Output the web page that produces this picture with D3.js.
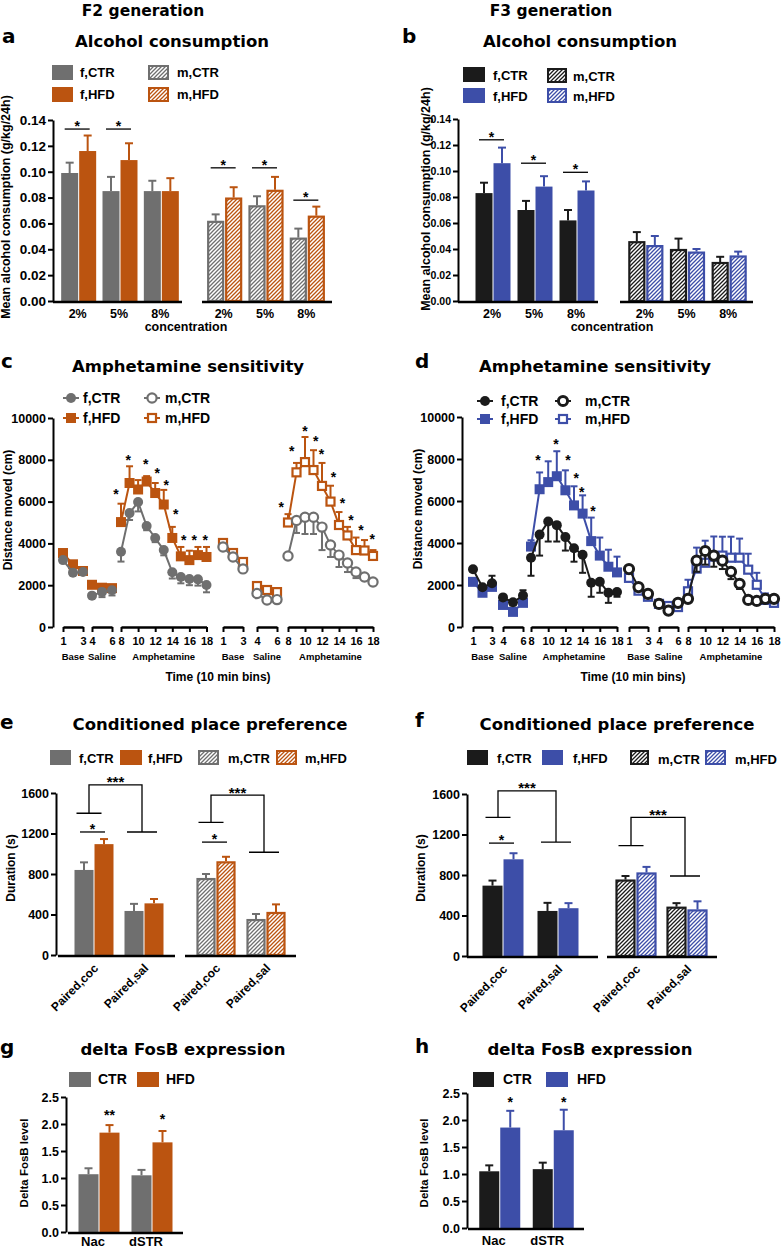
<!DOCTYPE html>
<html>
<head>
<meta charset="utf-8">
<script src="https://cdn.jsdelivr.net/npm/d3@7"></script>
<style>
  body { margin: 0; background: #fff; }
</style>
</head>
<body>
<svg id="fig" width="781" height="1249"></svg>
<script>
// ---------- data ----------
const concLabels = ['2%', '5%', '8%'];
const a_ticks = [0, 0.02, 0.04, 0.06, 0.08, 0.10, 0.12, 0.14];

// panel a (F2 alcohol)
const a_fCTR = [0.099, 0.085, 0.085], a_fCTR_err = [0.008, 0.011, 0.008];
const a_fHFD = [0.116, 0.109, 0.085], a_fHFD_err = [0.012, 0.013, 0.010];
const a_mCTR = [0.062, 0.074, 0.049], a_mCTR_err = [0.005, 0.007, 0.007];
const a_mHFD = [0.080, 0.086, 0.066], a_mHFD_err = [0.008, 0.010, 0.007];
const a_sig = [[0, 0, 0.133], [0, 1, 0.133], [1, 0, 0.103], [1, 1, 0.103], [1, 2, 0.078]];

// panel b (F3 alcohol)
const b_fCTR = [0.083, 0.070, 0.062], b_fCTR_err = [0.008, 0.007, 0.008];
const b_fHFD = [0.106, 0.088, 0.085], b_fHFD_err = [0.012, 0.008, 0.007];
const b_mCTR = [0.046, 0.040, 0.030], b_mCTR_err = [0.007, 0.008, 0.004];
const b_mHFD = [0.043, 0.038, 0.035], b_mHFD_err = [0.007, 0.002, 0.003];
const b_sig = [[0, 0, 0.124], [0, 1, 0.106], [0, 2, 0.099]];

// amphetamine time course: bins 1-3 base, 4-6 saline, 8-18 amphetamine
const bins = [1, 2, 3, 4, 5, 6, 8, 9, 10, 11, 12, 13, 14, 15, 16, 17, 18];
const phaseNames = ['Base', 'Saline', 'Amphetamine'];
const phaseTicks = [[1, 3], [4, 6], [8, 10, 12, 14, 16, 18]];
const dist_ticks = [0, 2000, 4000, 6000, 8000, 10000];

// panel c (F2)
const c_fCTR = [3200, 2600, 2630, 1500, 1680, 1760, 3600, 5450, 5980, 4830, 4260, 3680, 2620, 2390, 2300, 2280, 2010];
const c_fCTR_err = [-100, -100, -100, -100, -250, -250, -470, -330, -450, -200, -200, -250, -300, -300, -300, -300, -350];
const c_fHFD = [3540, 3000, 2680, 2020, 1880, 1860, 5020, 6890, 6580, 6960, 6410, 5860, 4260, 3380, 3200, 3440, 3350];
const c_fHFD_err = [120, 120, 100, 100, 100, 120, 880, 800, 450, 260, 480, 700, 530, 450, 450, 390, 480];
const c_mCTR = [3830, 3350, 2780, 1600, 1290, 1310, 3400, 5100, 5250, 5250, 4780, 3920, 3440, 3060, 2630, 2390, 2150];
const c_mCTR_err = [-100, -100, -100, -100, -100, -100, -100, -600, -800, -800, -1100, -570, -570, -430, -290, -150, -150];
const c_mHFD = [4020, 3540, 3110, 1960, 1770, 1670, 5000, 7400, 7890, 7510, 6750, 6000, 4880, 4380, 3680, 3660, 3400];
const c_mHFD_err = [100, 100, 100, 100, 100, 100, 400, 450, 1200, 950, 1100, 760, 620, 410, 600, 500, 280];
const c_starsF = [[7.4, 6520], [8.85, 8150], [10.9, 7960], [12.25, 7510], [13.3, 6950], [14.4, 5570], [15.35, 4320], [16.55, 4320], [17.85, 4320]];
const c_starsM = [[7.2, 5870], [8.45, 8550], [10.0, 9510], [11.25, 9060], [11.95, 8420], [13.35, 7310], [14.4, 6080], [15.4, 5250], [16.6, 4770], [17.9, 4370]];

// panel d (F3)
const d_fCTR = [2750, 1890, 2080, 1410, 1180, 1500, 3300, 4400, 5020, 4850, 4280, 3750, 3440, 2110, 2150, 1630, 1670];
const d_fCTR_err = [-100, -100, 360, -100, -150, 250, -860, -1000, -950, -780, -640, -640, -860, -670, -520, -480, -230];
const d_fHFD = [2150, 1630, 1910, 1050, 720, 1150, 3830, 6560, 6900, 7180, 6510, 5790, 5400, 4090, 3400, 2870, 2600];
const d_fHFD_err = [100, 100, 100, 100, 150, 100, 300, 800, 990, 1190, 950, 910, 870, 1120, 860, 810, 750];
const d_mCTR = [2760, 1900, 1580, 1100, 780, 1150, 1340, 3160, 3620, 3400, 3160, 2630, 2060, 1290, 1240, 1340, 1340];
const d_mCTR_err = [-100, -100, -100, -100, -100, -100, -100, -530, -650, -530, -400, -350, -250, -100, -100, -100, -100];
const d_mHFD = [2340, 1730, 1440, 1100, 1000, 950, 1700, 2780, 3060, 3350, 3400, 3300, 3300, 2730, 2010, 1290, 1150];
const d_mHFD_err = [100, 100, 100, 100, 100, 100, 550, 1000, 1050, 960, 900, 1000, 910, 760, 570, 310, 250];
const d_starsF = [[8.8, 8100], [10.9, 8840], [12.3, 8100], [13.25, 7220], [13.9, 6590], [15.2, 5680]];

// conditioned place preference
const cppCats = ['Paired,coc', 'Paired,sal'];
const cpp_ticks = [0, 400, 800, 1200, 1600];
const e_fCTR = [840, 435], e_fCTR_err = [75, 70];
const e_fHFD = [1095, 510], e_fHFD_err = [50, 43];
const e_mCTR = [760, 355], e_mCTR_err = [40, 50];
const e_mHFD = [925, 425], e_mHFD_err = [45, 75];
const e_pairs = [[0, 0, 1215], [1, 0, 1115]];
const e_brackets = [[0, 1680, 1400, 1215], [1, 1580, 1310, 1015]];
const f_fCTR = [695, 445], f_fCTR_err = [50, 80];
const f_fHFD = [955, 472], f_fHFD_err = [60, 50];
const f_mCTR = [755, 487], f_mCTR_err = [35, 35];
const f_mHFD = [825, 460], f_mHFD_err = [55, 80];
const f_pairs = [[0, 0, 1115]];
const f_brackets = [[0, 1630, 1370, 1125], [1, 1370, 1090, 790]];

// delta FosB
const fosCats = ['Nac', 'dSTR'];
const fos_ticks = [0, 0.5, 1.0, 1.5, 2.0, 2.5];
const g_CTR = [1.07, 1.05], g_CTR_err = [0.11, 0.10];
const g_HFD = [1.84, 1.66], g_HFD_err = [0.14, 0.21];
const g_stars = [['**', 2.23], ['*', 2.14]];
const h_CTR = [1.05, 1.09], h_CTR_err = [0.11, 0.12];
const h_HFD = [1.86, 1.81], h_HFD_err = [0.31, 0.38];
const h_stars = [['*', 2.38], ['*', 2.38]];

// ---------- drawing ----------
const FONT = "'Liberation Sans', Arial, sans-serif";
const TFONT = "'DejaVu Sans', sans-serif";
const C = { gray: '#6f6f6f', orange: '#bb5410', black: '#1b1b1b', blue: '#3d4ea8' };

const svg = d3.select('#fig');
svg.append('rect').attr('width', 781).attr('height', 1249).attr('fill', '#fff');
const defs = svg.append('defs');
const hatchId = { [C.gray]: 'hGray', [C.orange]: 'hOrange', [C.black]: 'hBlack', [C.blue]: 'hBlue' };
Object.entries(hatchId).forEach(([col, id]) => {
  const p = defs.append('pattern').attr('id', id).attr('patternUnits', 'userSpaceOnUse')
    .attr('width', 4).attr('height', 4);
  p.append('rect').attr('width', 4).attr('height', 4).attr('fill', '#fff');
  p.append('path').attr('d', 'M-1,1 l2,-2 M0,4 l4,-4 M3,5 l2,-2')
    .attr('stroke', col).attr('stroke-width', 1.3);
});

function text(x, y, s, o = {}) {
  return svg.append('text')
    .attr('x', x).attr('y', y).text(s)
    .attr('font-family', o.family || FONT)
    .attr('font-size', o.size || 12)
    .attr('font-weight', 'bold')
    .attr('text-anchor', o.anchor || 'start')
    .attr('fill', '#000')
    .attr('transform', o.rotate ? `rotate(${o.rotate},${x},${y})` : null);
}

function yAxis(x, y, ticks, fmt, fs) {
  const a = svg.append('g')
    .attr('transform', `translate(${x},0)`)
    .call(d3.axisLeft(y).tickValues(ticks).tickFormat(fmt).tickSize(5).tickSizeOuter(0).tickPadding(2));
  a.attr('font-family', FONT).attr('font-size', fs).attr('font-weight', 'bold');
  a.select('.domain').attr('stroke-width', 2);
  a.selectAll('.tick line').attr('stroke-width', 2);
  a.selectAll('.tick text').attr('fill', '#000');
}

function legendBox(x, y, w, h, col, hatched, label, tx, ty, fs) {
  if (hatched) {
    svg.append('rect').attr('x', x + 1).attr('y', y + 1).attr('width', w - 2).attr('height', h - 2)
      .attr('fill', `url(#${hatchId[col]})`).attr('stroke', col).attr('stroke-width', 2);
  } else {
    svg.append('rect').attr('x', x).attr('y', y).attr('width', w).attr('height', h).attr('fill', col);
  }
  text(tx, ty, label, { size: fs || 13 });
}

function drawBars(g, x, y, cats, series, bw) {
  series.forEach((s, si) => {
    s.vals.forEach((v, i) => {
      const x0 = si === 0 ? x(cats[i]) - bw - 0.5 : x(cats[i]) + 0.5;
      const xc = x0 + bw / 2;
      const yt = y(v + s.err[i]);
      g.append('line').attr('x1', xc).attr('x2', xc).attr('y1', y(v)).attr('y2', yt)
        .attr('stroke', s.color).attr('stroke-width', 2);
      g.append('line').attr('x1', xc - 4).attr('x2', xc + 4).attr('y1', yt).attr('y2', yt)
        .attr('stroke', s.color).attr('stroke-width', 2);
      if (s.hatch) {
        g.append('rect').attr('x', x0 + 1).attr('y', y(v) + 1).attr('width', bw - 2)
          .attr('height', y(0) - y(v) - 1)
          .attr('fill', `url(#${hatchId[s.color]})`).attr('stroke', s.color).attr('stroke-width', 2.2);
      } else {
        g.append('rect').attr('x', x0).attr('y', y(v)).attr('width', bw).attr('height', y(0) - y(v))
          .attr('fill', s.color);
      }
    });
  });
}

function pairLine(g, xc, yy, label) {
  g.append('line').attr('x1', xc - 14).attr('x2', xc + 11).attr('y1', yy).attr('y2', yy)
    .attr('stroke', '#000').attr('stroke-width', 1.3);
  text(xc - 1.5, yy + 2, label || '*', { size: 14, anchor: 'middle' });
}

function barPanel(p) {
  const g = svg.append('g');
  const y = d3.scaleLinear().domain(p.yDomain).range(p.yRange);
  p.groups.forEach((gr, gi) => {
    const x = d3.scalePoint().domain(p.cats).range(gr.range).padding(0.5);
    drawBars(g, x, y, p.cats, gr.series, p.bw);
    g.append('line').attr('x1', gr.axis[0]).attr('x2', gr.axis[1]).attr('y1', y(0) + 1).attr('y2', y(0) + 1)
      .attr('stroke', '#000').attr('stroke-width', 2.6);
    if (p.catLabels === 'below') {
      p.cats.forEach(c => text(x(c) - 1, p.catY, c, { size: 12.5, anchor: 'middle' }));
    } else if (p.catLabels === 'rotated') {
      p.cats.forEach(c => text(x(c) + 5, y(0) + 14, c, { size: 12, anchor: 'end', rotate: -45 }));
    }
    (p.pairs || []).filter(s => s[0] === gi).forEach(s => pairLine(g, x(p.cats[s[1]]), y(s[2])));
    (p.brackets || []).filter(b => b[0] === gi).forEach(b => {
      const xl = x(p.cats[0]) - 5, xr = x(p.cats[1]) - 2;
      g.append('path')
        .attr('d', `M${xl - 12.5},${y(b[2])}H${xl + 12.5}M${xl},${y(b[2])}V${y(b[1])}H${xr}V${y(b[3])}M${xr - 15},${y(b[3])}H${xr + 15}`)
        .attr('fill', 'none').attr('stroke', '#000').attr('stroke-width', 1.3);
      text((xl + xr) / 2, y(b[1]) + 2.5, '***', { size: 15, anchor: 'middle' });
    });
  });
  yAxis(p.axisX, y, p.ticks, p.fmt, p.tickFs);
  return { y };
}

function marker(g, x, y, s) {
  if (s.shape === 'circle') {
    g.append('circle').attr('cx', x).attr('cy', y).attr('r', s.filled ? 5 : (s.ring || 4.4))
      .attr('fill', s.filled ? s.color : '#fff').attr('stroke', s.color)
      .attr('stroke-width', s.filled ? 0 : (s.sw || 2.2));
  } else if (s.filled) {
    g.append('rect').attr('x', x - 5).attr('y', y - 5).attr('width', 10).attr('height', 10).attr('fill', s.color);
  } else {
    g.append('rect').attr('x', x - 4).attr('y', y - 4).attr('width', 8).attr('height', 8)
      .attr('fill', '#fff').attr('stroke', s.color).attr('stroke-width', 2.2);
  }
}

function linePanel(p) {
  const g = svg.append('g');
  const y = d3.scaleLinear().domain([0, 10000]).range([p.y0, p.yTop]);
  const phaseDomains = [[1, 3], [4, 6], [8, 18]];
  const xs = p.segs.map((r, k) => d3.scaleLinear().domain(phaseDomains[k % 3]).range(r));
  const phaseOf = b => (b <= 3 ? 0 : b <= 6 ? 1 : 2);
  const line = d3.line().x(d => d.x).y(d => d.y);
  p.series.forEach(s => {
    const pts = bins.map((b, i) => ({
      ph: phaseOf(b),
      x: xs[s.half * 3 + phaseOf(b)](b),
      y: y(s.vals[i]),
      ye: y(s.vals[i] + s.err[i])
    }));
    [0, 1, 2].forEach(k => {
      g.append('path').datum(pts.filter(d => d.ph === k)).attr('d', line)
        .attr('fill', 'none').attr('stroke', s.color).attr('stroke-width', 2);
    });
    pts.forEach(d => {
      g.append('line').attr('x1', d.x).attr('x2', d.x).attr('y1', d.y).attr('y2', d.ye)
        .attr('stroke', s.color).attr('stroke-width', 2);
      g.append('line').attr('x1', d.x - 3.5).attr('x2', d.x + 3.5).attr('y1', d.ye).attr('y2', d.ye)
        .attr('stroke', s.color).attr('stroke-width', 2);
    });
    pts.forEach(d => marker(g, d.x, d.y, s));
  });
  p.stars.forEach(([half, list]) => {
    list.forEach(([b, v]) => text(xs[half * 3 + 2](b), y(v) + 8, '*', { size: 14, anchor: 'middle' }));
  });
  // bracket axes
  xs.forEach((xsc, k) => {
    const a = svg.append('g').attr('transform', `translate(0,${p.y0})`)
      .call(d3.axisBottom(xsc).tickValues(phaseTicks[k % 3]).tickFormat(d3.format('d'))
        .tickSize(5).tickSizeOuter(0).tickPadding(5));
    a.attr('font-family', FONT).attr('font-size', 11).attr('font-weight', 'bold');
    a.select('.domain').attr('stroke-width', 2.5);
    a.selectAll('.tick line').attr('stroke-width', 2);
    a.selectAll('.tick text').attr('fill', '#000');
    const r = xsc.range();
    text((r[0] + r[1]) / 2, p.y0 + 33, phaseNames[k % 3], { size: 9.5, anchor: 'middle' });
  });
  yAxis(p.axisX, y, dist_ticks, d3.format('d'), 12.5);
  return { y };
}

function lineLegend(cx, cy, s, label, tx) {
  svg.append('line').attr('x1', cx - 8).attr('x2', cx + 8).attr('y1', cy).attr('y2', cy)
    .attr('stroke', s.color).attr('stroke-width', 2);
  marker(svg, cx, cy, s);
  text(tx, cy + 5, label, { size: 14 });
}

// ---------- headers ----------
text(143, 16, 'F2 generation', { family: TFONT, size: 15.5, anchor: 'middle' });
text(551, 16, 'F3 generation', { family: TFONT, size: 15.5, anchor: 'middle' });
[['a', 2, 43], ['b', 402, 43], ['c', 1, 368], ['d', 415, 368],
 ['e', 0, 729], ['f', 415, 727], ['g', 0, 1054], ['h', 415, 1053]]
  .forEach(([l, x, y]) => text(x, y, l, { family: TFONT, size: 20 }));
[['Alcohol consumption', 172, 47], ['Alcohol consumption', 580, 47],
 ['Amphetamine sensitivity', 188, 372], ['Amphetamine sensitivity', 595, 372],
 ['Conditioned place preference', 210, 730], ['Conditioned place preference', 617, 730],
 ['delta FosB expression', 183, 1055], ['delta FosB expression', 590, 1055]]
  .forEach(([t, x, y]) => text(x, y, t, { family: TFONT, size: 16.5, anchor: 'middle' }));

// ---------- panel a ----------
barPanel({
  yDomain: [0, 0.14], yRange: [301, 120], axisX: 53, ticks: a_ticks, fmt: d3.format('.2f'), tickFs: 13.5,
  cats: concLabels, bw: 17, catLabels: 'below', catY: 318, pairs: a_sig,
  groups: [
    { range: [58, 182], axis: [53, 182], series: [
      { vals: a_fCTR, err: a_fCTR_err, color: C.gray },
      { vals: a_fHFD, err: a_fHFD_err, color: C.orange }] },
    { range: [204, 328], axis: [202, 332], series: [
      { vals: a_mCTR, err: a_mCTR_err, color: C.gray, hatch: true },
      { vals: a_mHFD, err: a_mHFD_err, color: C.orange, hatch: true }] }
  ]
});
text(186, 331, 'concentration', { size: 12.5, anchor: 'middle' });
text(10, 207, 'Mean alcohol consumption (g/kg/24h)', { size: 12.5, anchor: 'middle', rotate: -90 });
legendBox(52, 65, 21, 15, C.gray, false, 'f,CTR', 80, 77);
legendBox(52, 87, 21, 15, C.orange, false, 'f,HFD', 80, 99);
legendBox(148, 65, 21, 15, C.gray, true, 'm,CTR', 177, 77);
legendBox(148, 87, 21, 15, C.orange, true, 'm,HFD', 177, 99);

// ---------- panel b ----------
barPanel({
  yDomain: [0, 0.14], yRange: [301, 119], axisX: 458, ticks: a_ticks, fmt: d3.format('.2f'), tickFs: 10.5,
  cats: concLabels, bw: 17, catLabels: 'below', catY: 318, pairs: b_sig,
  groups: [
    { range: [472, 598], axis: [458, 598], series: [
      { vals: b_fCTR, err: b_fCTR_err, color: C.black },
      { vals: b_fHFD, err: b_fHFD_err, color: C.blue }] },
    { range: [625, 750], axis: [620, 753], series: [
      { vals: b_mCTR, err: b_mCTR_err, color: C.black, hatch: true },
      { vals: b_mHFD, err: b_mHFD_err, color: C.blue, hatch: true }] }
  ]
});
text(612, 331, 'concentration', { size: 12.5, anchor: 'middle' });
text(430, 199, 'Mean alcohol consumption (g/kg/24h)', { size: 12.5, anchor: 'middle', rotate: -90 });
legendBox(463, 67, 22, 15, C.black, false, 'f,CTR', 493, 80);
legendBox(463, 88, 22, 15, C.blue, false, 'f,HFD', 493, 101);
legendBox(547, 68, 20, 15, C.black, true, 'm,CTR', 573, 81);
legendBox(547, 88, 20, 15, C.blue, true, 'm,HFD', 573, 101);

// ---------- panel c ----------
const sFC = { color: C.gray, shape: 'circle', filled: true };
const sMC = { color: C.gray, shape: 'circle', filled: false, ring: 4.6, sw: 2.2 };
const sFH = { color: C.orange, shape: 'square', filled: true };
const sMH = { color: C.orange, shape: 'square', filled: false };
linePanel({
  y0: 627, yTop: 418, axisX: 53,
  segs: [[63, 83], [92, 112], [121, 206.5], [223, 243], [257, 277], [288, 373]],
  series: [
    { ...sFH, vals: c_fHFD, err: c_fHFD_err, half: 0 },
    { ...sMH, vals: c_mHFD, err: c_mHFD_err, half: 1 },
    { ...sFC, vals: c_fCTR, err: c_fCTR_err, half: 0 },
    { ...sMC, vals: c_mCTR, err: c_mCTR_err, half: 1 }
  ],
  stars: [[0, c_starsF], [1, c_starsM]]
});
text(12, 510, 'Distance moved (cm)', { size: 12, anchor: 'middle', rotate: -90 });
text(218, 681, 'Time (10 min bins)', { size: 12, anchor: 'middle' });
lineLegend(71, 398, sFC, 'f,CTR', 83);
lineLegend(71, 418, sFH, 'f,HFD', 83);
lineLegend(152, 398, sMC, 'm,CTR', 165);
lineLegend(152, 418, sMH, 'm,HFD', 165);

// ---------- panel d ----------
const tFC = { color: C.black, shape: 'circle', filled: true };
const tMC = { color: C.black, shape: 'circle', filled: false, ring: 4.6, sw: 3 };
const tFH = { color: C.blue, shape: 'square', filled: true };
const tMH = { color: C.blue, shape: 'square', filled: false };
linePanel({
  y0: 627, yTop: 417, axisX: 462,
  segs: [[473, 492], [503, 523], [531, 617], [629, 648], [659, 678], [688, 774]],
  series: [
    { ...tFH, vals: d_fHFD, err: d_fHFD_err, half: 0 },
    { ...tMH, vals: d_mHFD, err: d_mHFD_err, half: 1 },
    { ...tFC, vals: d_fCTR, err: d_fCTR_err, half: 0 },
    { ...tMC, vals: d_mCTR, err: d_mCTR_err, half: 1 }
  ],
  stars: [[0, d_starsF]]
});
text(422, 509, 'Distance moved (cm)', { size: 12, anchor: 'middle', rotate: -90 });
text(633, 681, 'Time (10 min bins)', { size: 12, anchor: 'middle' });
lineLegend(485, 401, tFC, 'f,CTR', 501);
lineLegend(485, 419, tFH, 'f,HFD', 501);
lineLegend(563, 401, tMC, 'm,CTR', 585);
lineLegend(563, 419, tMH, 'm,HFD', 585);

// ---------- panel e ----------
barPanel({
  yDomain: [0, 1600], yRange: [955, 793], axisX: 56, ticks: cpp_ticks, fmt: d3.format('d'), tickFs: 12.5,
  cats: cppCats, bw: 19, catLabels: 'rotated', pairs: e_pairs, brackets: e_brackets,
  groups: [
    { range: [69, 169], axis: [58, 175], series: [
      { vals: e_fCTR, err: e_fCTR_err, color: C.gray },
      { vals: e_fHFD, err: e_fHFD_err, color: C.orange }] },
    { range: [191, 291], axis: [185, 296], series: [
      { vals: e_mCTR, err: e_mCTR_err, color: C.gray, hatch: true },
      { vals: e_mHFD, err: e_mHFD_err, color: C.orange, hatch: true }] }
  ]
});
text(15, 868, 'Duration (s)', { size: 12, anchor: 'middle', rotate: -90 });
legendBox(50, 750, 21, 15, C.gray, false, 'f,CTR', 79, 763);
legendBox(120, 750, 22, 15, C.orange, false, 'f,HFD', 148, 763);
legendBox(198, 750, 21, 15, C.gray, true, 'm,CTR', 228, 763);
legendBox(276, 750, 21, 15, C.orange, true, 'm,HFD', 305, 763);

// ---------- panel f ----------
barPanel({
  yDomain: [0, 1600], yRange: [956, 794], axisX: 467, ticks: cpp_ticks, fmt: d3.format('d'), tickFs: 12.5,
  cats: cppCats, bw: 20, catLabels: 'rotated', pairs: f_pairs, brackets: f_brackets,
  groups: [
    { range: [475.5, 585.5], axis: [467, 598], series: [
      { vals: f_fCTR, err: f_fCTR_err, color: C.black },
      { vals: f_fHFD, err: f_fHFD_err, color: C.blue }] },
    { range: [610.5, 712.5], axis: [607, 717], series: [
      { vals: f_mCTR, err: f_mCTR_err, color: C.black, hatch: true },
      { vals: f_mHFD, err: f_mHFD_err, color: C.blue, hatch: true }] }
  ]
});
text(425, 868, 'Duration (s)', { size: 12, anchor: 'middle', rotate: -90 });
legendBox(467, 750, 21, 15, C.black, false, 'f,CTR', 497, 763);
legendBox(542, 750, 21, 15, C.blue, false, 'f,HFD', 573, 763);
legendBox(630, 750, 19, 15, C.black, true, 'm,CTR', 658, 764);
legendBox(705, 750, 21, 15, C.blue, true, 'm,HFD', 735, 764);

// ---------- panels g, h ----------
function fosPanel(p) {
  const r = barPanel({
    yDomain: [0, 2.5], yRange: [p.y0, p.yTop], axisX: p.axisX, ticks: fos_ticks, fmt: d3.format('.1f'), tickFs: 12.5,
    cats: fosCats, bw: 20,
    groups: [{ range: p.range, axis: p.axis, series: [
      { vals: p.ctr, err: p.ctrErr, color: p.c0 },
      { vals: p.hfd, err: p.hfdErr, color: p.c1 }] }]
  });
  const x = d3.scalePoint().domain(fosCats).range(p.range).padding(0.5);
  fosCats.forEach((c, i) => {
    text(x(c) - 6, p.labelY, c, { size: 13, anchor: 'middle' });
    text(x(c) + 10.5, r.y(p.stars[i][1]) + 8, p.stars[i][0], { size: 14, anchor: 'middle' });
  });
}
fosPanel({ y0: 1232, yTop: 1097, axisX: 66, range: [72.5, 178.5], axis: [68, 183], labelY: 1246,
  ctr: g_CTR, ctrErr: g_CTR_err, hfd: g_HFD, hfdErr: g_HFD_err, c0: C.gray, c1: C.orange, stars: g_stars });
text(28, 1163, 'Delta FosB level', { size: 11.5, anchor: 'middle', rotate: -90 });
legendBox(69, 1072, 22, 15, C.gray, false, 'CTR', 98, 1084, 14);
legendBox(137, 1072, 22, 15, C.orange, false, 'HFD', 166, 1084, 14);

fosPanel({ y0: 1228, yTop: 1093, axisX: 467, range: [473, 580], axis: [468, 584], labelY: 1245,
  ctr: h_CTR, ctrErr: h_CTR_err, hfd: h_HFD, hfdErr: h_HFD_err, c0: C.black, c1: C.blue, stars: h_stars });
text(428, 1163, 'Delta FosB level', { size: 11.5, anchor: 'middle', rotate: -90 });
legendBox(473, 1072, 21, 15, C.black, false, 'CTR', 503, 1084, 14);
legendBox(546, 1072, 22, 15, C.blue, false, 'HFD', 577, 1084, 14);
</script>
</body>
</html>
